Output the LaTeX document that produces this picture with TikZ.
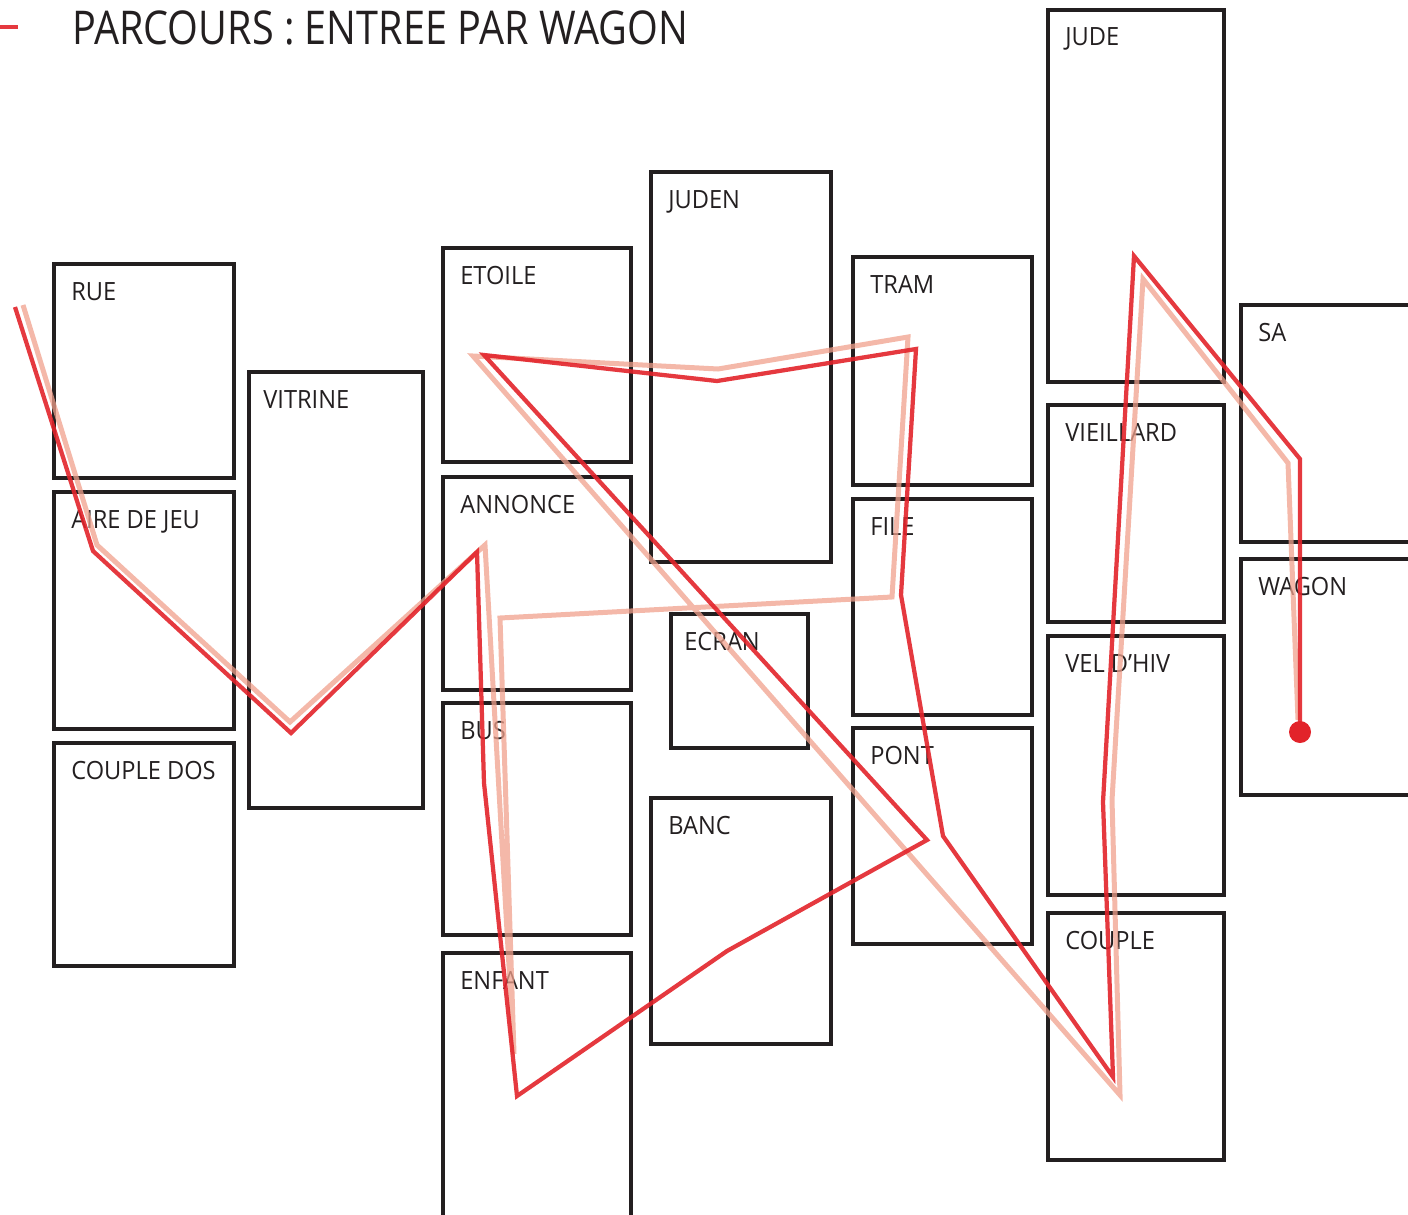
\documentclass[tikz,border=0pt]{standalone}
\usepackage{fontspec}
\newfontfamily\labelfont[FakeStretch=0.94]{Open Sans}
\newfontfamily\titlefont[FakeStretch=0.85]{Open Sans}
\definecolor{routered}{RGB}{226,35,42}
\definecolor{routepink}{RGB}{240,160,140}
\definecolor{boxgrey}{RGB}{35,31,32}

\begin{document}
\begin{tikzpicture}[x=0.2mm, y=-0.2mm,
  box/.style={draw=boxgrey, line width=0.95mm, rectangle, inner sep=0pt, outer sep=0pt, anchor=north west},
  tag/.style={anchor=base west, xshift=3.4mm, yshift=-7.2mm, inner sep=0pt, font=\labelfont\fontsize{14.3}{16}\selectfont, text=boxgrey},
  route/.style={routered, line width=0.85mm, opacity=0.9},
  ghost/.style={routepink, line width=1mm, opacity=0.75}
]
\clip (0,0) rectangle (1408,1214);

% title
\node[anchor=base west, inner sep=0pt, font=\titlefont\fontsize{26.5}{30}\selectfont, text=boxgrey] (title) at (72,45) {PARCOURS : ENTREE PAR WAGON};
\draw[route] (0,27) -- (18,27);

% column 1
\node[box, minimum width=36mm, minimum height=42.8mm, label={[tag]north west:RUE}] (rue) at (54,264) {};
\node[box, minimum width=36mm, minimum height=47.4mm, label={[tag]north west:AIRE DE JEU}] (aire) at (54,492) {};
\node[box, minimum width=36mm, minimum height=44.6mm, label={[tag]north west:COUPLE DOS}] (coupledos) at (54,743) {};
\node[box, minimum width=34.8mm, minimum height=87.2mm, label={[tag, xshift=-0.6mm]north west:VITRINE}] (vitrine) at (249,372) {};

% column 2
\node[box, minimum width=37.6mm, minimum height=42.8mm, label={[tag]north west:ETOILE}] (etoile) at (443,248) {};
\node[box, minimum width=37.6mm, minimum height=42.6mm, label={[tag]north west:ANNONCE}] (annonce) at (443,477) {};
\node[box, minimum width=37.6mm, minimum height=46.4mm, label={[tag]north west:BUS}] (bus) at (443,703) {};
\node[box, minimum width=37.6mm, minimum height=60mm, label={[tag]north west:ENFANT}] (enfant) at (443,953) {};

% column 3
\node[box, minimum width=36mm, minimum height=78mm, label={[tag]north west:JUDEN}] (juden) at (651,172) {};
\node[box, minimum width=27.4mm, minimum height=26.8mm, label={[tag, xshift=-0.8mm]north west:ECRAN}] (ecran) at (671,614) {};
\node[box, minimum width=36mm, minimum height=49.2mm, label={[tag]north west:BANC}] (banc) at (651,798) {};

% column 4
\node[box, minimum width=35.8mm, minimum height=45.6mm, label={[tag]north west:TRAM}] (tram) at (853,257) {};
\node[box, minimum width=35.8mm, minimum height=43.2mm, label={[tag]north west:FILE}] (file) at (853,499) {};
\node[box, minimum width=35.8mm, minimum height=43.2mm, label={[tag]north west:PONT}] (pont) at (853,728) {};

% column 5
\node[box, minimum width=35.2mm, minimum height=74.4mm, label={[tag]north west:JUDE}] (jude) at (1048,10) {};
\node[box, minimum width=35.2mm, minimum height=43.4mm, label={[tag]north west:VIEILLARD}] (vieillard) at (1048,405) {};
\node[box, minimum width=35.2mm, minimum height=51.8mm, label={[tag]north west:VEL D’HIV}] (velhiv) at (1048,636) {};
\node[box, minimum width=35.2mm, minimum height=49.4mm, label={[tag]north west:COUPLE}] (couple) at (1048,913) {};

% column 6
\node[box, minimum width=42mm, minimum height=47.4mm, label={[tag]north west:SA}] (sa) at (1241,305) {};
\node[box, minimum width=42mm, minimum height=47.2mm, label={[tag]north west:WAGON}] (wagon) at (1241,559) {};

% routes
\node[circle, fill=routered, inner sep=0pt, minimum size=4.4mm] (stop) at (1300,732) {};
\draw[ghost] (23,305) -- (97,545) -- (290,722) -- (485,545) -- (514,1054) -- (500,618)
  -- (892,597) -- (908,337) -- (718,369) -- (473,356) -- (1120,1095) -- (1112,800)
  -- (1143,279) -- (1288,463) -- (1298,720);
\draw[route] (15,307) -- (93,551) -- (291,733) -- (477,552) -- (484,783) -- (517,1096)
  -- (727,951) -- (927,840) -- (484,355) -- (717,381) -- (916,349) -- (901,595)
  -- (943,836) -- (1113,1077) -- (1103,802) -- (1134,256) -- (1300,459) -- (stop.center);
\end{tikzpicture}
\end{document}
